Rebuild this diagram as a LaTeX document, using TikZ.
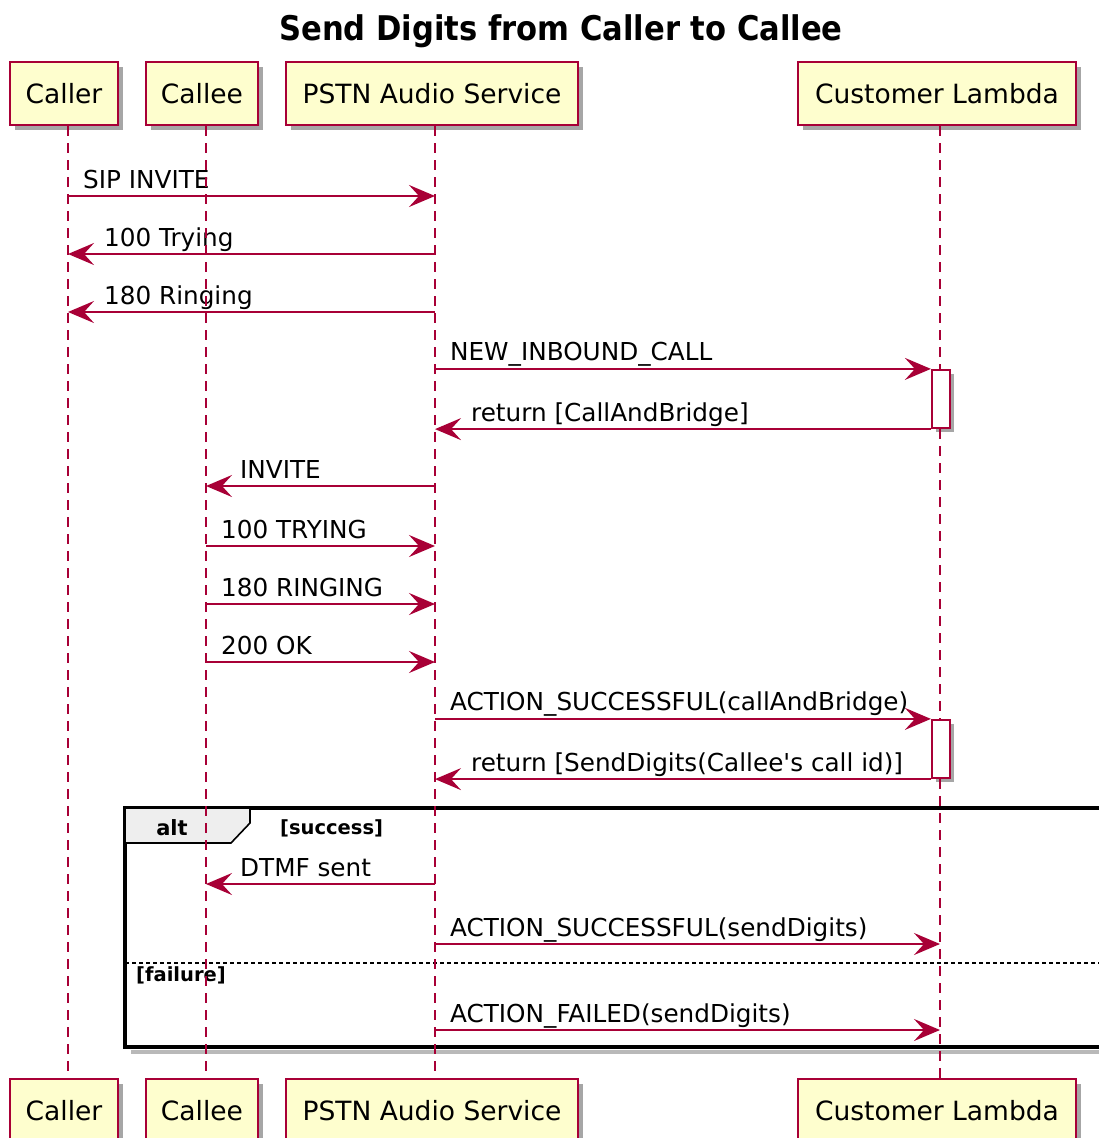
\documentclass[tikz,border=0pt]{standalone}
\usepackage{graphicx}
\usepackage{fontspec}
\setmainfont{DejaVu Sans}[Ligatures=TeXOff]
\usetikzlibrary{arrows.meta,shadows,calc}
\definecolor{pred}{HTML}{A80036}
\definecolor{pfill}{HTML}{FEFECE}
\definecolor{tabfill}{HTML}{EEEEEE}
\newcommand{\msgfont}{\fontsize{24.7}{28}\selectfont}
\begin{document}
\begin{tikzpicture}[x=1pt,y=-1pt,
  part/.style={draw=pred, fill=pfill, line width=2.4pt, minimum height=63pt, inner sep=0pt,
    font=\fontsize{26.5}{30}\selectfont,
    drop shadow={shadow xshift=5pt, shadow yshift=-5pt, opacity=0.35, fill=black}},
  actbox/.style={draw=pred, fill=white, line width=2.2pt, minimum width=18pt, minimum height=58pt, inner sep=0pt,
    drop shadow={shadow xshift=4pt, shadow yshift=-4pt, opacity=0.35, fill=black}},
  life/.style={draw=pred, line width=1.9pt, dash pattern=on 10pt off 7pt},
  msg/.style={draw=pred, line width=2.3pt, -{Stealth[length=26pt,width=22pt,inset=10pt]}},
  lblR/.style={anchor=base west, inner sep=0pt, xshift=14pt, yshift=8pt, text=black, font=\msgfont},
  lblL/.style={anchor=base west, inner sep=0pt, xshift=35pt, yshift=8pt, text=black, font=\msgfont},
  guard/.style={anchor=base west, inner sep=0pt, font=\fontsize{19.5}{22}\bfseries\selectfont}
]
\useasboundingbox (0,0) rectangle (1098,1138);

% title
\node[anchor=base, inner sep=0pt] (title) at (561,40)
  {\scalebox{0.9}[1]{\fontsize{34}{38}\bfseries\selectfont Send Digits from Caller to Callee}};

% lifeline x positions
\coordinate (L1) at (68,0);
\coordinate (L2) at (206,0);
\coordinate (L3) at (435,0);
\coordinate (L4) at (940,0);

% alt frame
\draw[gray!55, line width=3.5pt] (131,1052) -- (1110,1052);
\draw[black, line width=3.6pt] (125,808) rectangle (1115,1047);
\draw[black, line width=1.6pt, fill=tabfill] (125,808) -- (250,808) -- (250,823) -- (231,843) -- (125,843) -- cycle;
\node[anchor=base, inner sep=0pt, font=\fontsize{21}{24}\bfseries\selectfont] (alttxt) at (172,835) {alt};
\node[guard] (succ) at (280,834) {[success]};
\draw[black, line width=1.3pt, dash pattern=on 4pt off 3pt] (125,963) -- (1115,963);
\node[guard] (fail) at (136,981) {[failure]};

% activation boxes
\node[actbox] (act1) at (941,399) {};
\node[actbox] (act2) at (941,749) {};

% messages
\draw[msg] (L1 |- 0,196) -- (L3 |- 0,196) node[pos=0, lblR] {SIP INVITE};
\draw[msg] (L3 |- 0,254) -- (L1 |- 0,254) node[pos=1, lblL] {100 Trying};
\draw[msg] (L3 |- 0,312) -- (L1 |- 0,312) node[pos=1, lblL] {180 Ringing};
\draw[msg] (L3 |- act1.north west) -- (act1.north west) node[pos=0, lblR] {NEW\_INBOUND\_CALL};
\draw[msg] (act1.south west) -- (L3 |- act1.south west) node[pos=1, lblL] {return [CallAndBridge]};
\draw[msg] (L3 |- 0,486) -- (L2 |- 0,486) node[pos=1, xshift=-2pt, lblL] {INVITE};
\draw[msg] (L2 |- 0,546) -- (L3 |- 0,546) node[pos=0, lblR] {100 TRYING};
\draw[msg] (L2 |- 0,604) -- (L3 |- 0,604) node[pos=0, lblR] {180 RINGING};
\draw[msg] (L2 |- 0,662) -- (L3 |- 0,662) node[pos=0, lblR] {200 OK};
\draw[msg] (L3 |- act2.north west) -- (act2.north west) node[pos=0, lblR] {ACTION\_SUCCESSFUL(callAndBridge)};
\draw[msg] (act2.south west) -- (L3 |- act2.south west) node[pos=1, lblL] {return [SendDigits(Callee's call id)]};
\draw[msg] (L3 |- 0,884) -- (L2 |- 0,884) node[pos=1, xshift=-2pt, lblL] {DTMF sent};
\draw[msg] (L3 |- 0,944) -- (L4 |- 0,944) node[pos=0, lblR] {ACTION\_SUCCESSFUL(sendDigits)};
\draw[msg] (L3 |- 0,1030) -- (L4 |- 0,1030) node[pos=0, lblR] {ACTION\_FAILED(sendDigits)};

% participants (top)
\node[part, minimum width=108pt] (p1t) at (64,93.5) {Caller};
\node[part, minimum width=112pt] (p2t) at (202,93.5) {Callee};
\node[part, minimum width=292pt] (p3t) at (432,93.5) {PSTN Audio Service};
\node[part, minimum width=278pt] (p4t) at (937,93.5) {Customer Lambda};
% participants (bottom)
\node[part, minimum width=108pt] (p1b) at (64,1110.5) {Caller};
\node[part, minimum width=112pt] (p2b) at (202,1110.5) {Callee};
\node[part, minimum width=292pt] (p3b) at (432,1110.5) {PSTN Audio Service};
\node[part, minimum width=278pt] (p4b) at (937,1110.5) {Customer Lambda};

% lifelines
\draw[life] (L1 |- p1t.south) -- (L1 |- p1b.north);
\draw[life] (L2 |- p2t.south) -- (L2 |- p2b.north);
\draw[life] (L3 |- p3t.south) -- (L3 |- p3b.north);
\draw[life] (L4 |- p4t.south) -- (L4 |- act1.north);
\draw[life] (L4 |- act1.south) -- (L4 |- act2.north);
\draw[life] (L4 |- act2.south) -- (L4 |- p4b.north);
\end{tikzpicture}
\end{document}
